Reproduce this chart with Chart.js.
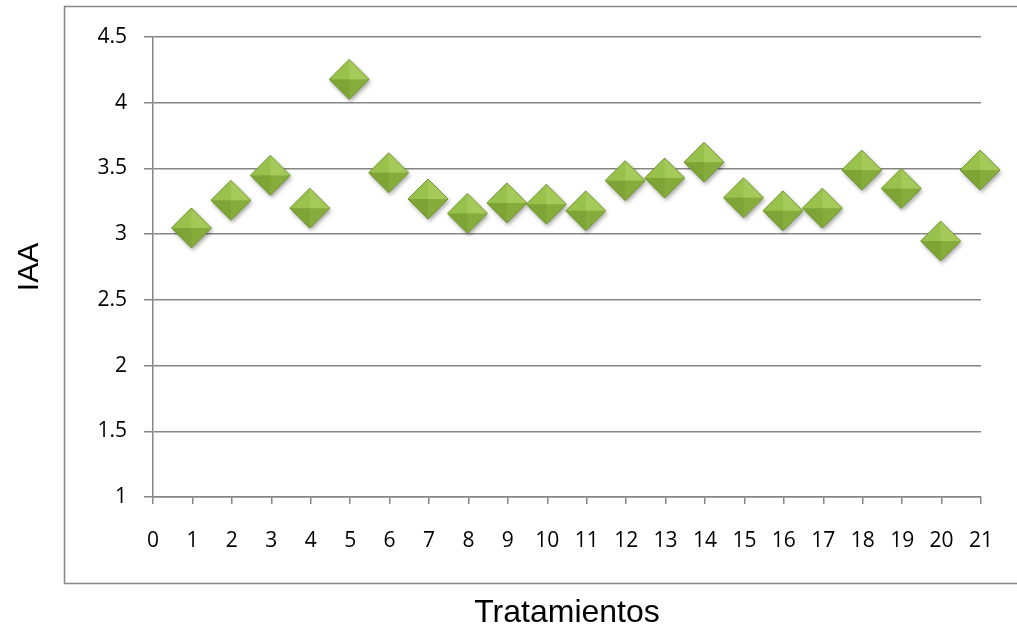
<!DOCTYPE html>
<html>
<head>
<meta charset="utf-8">
<script src="https://cdn.jsdelivr.net/npm/chart.js@4/dist/chart.umd.min.js"></script>
<style>
  html, body { margin: 0; padding: 0; background: #ffffff; }
  #wrap { width: 1017px; height: 632px; position: relative; }
</style>
</head>
<body>
<div id="wrap"><canvas id="chart"></canvas></div>
<script>
// treatments (x) and IAA values (y)
const tratamientos = [1, 2, 3, 4, 5, 6, 7, 8, 9, 10, 11, 12, 13, 14, 15, 16, 17, 18, 19, 20, 21];
const iaa = [3.04, 3.25, 3.44, 3.19, 4.17, 3.46, 3.26, 3.15, 3.23, 3.22, 3.17, 3.40, 3.42, 3.54, 3.27, 3.17, 3.19, 3.48, 3.34, 2.94, 3.48];

const xTitle = "Tratamientos";
const yTitle = "IAA";

const GRID = "rgb(134, 134, 134)";
const TICK_FONT = { family: "'Open Sans', sans-serif", size: 21 };

// beveled green diamond, drawn once and used as the point image
const makeDiamond = () => {
  const c = document.createElement("canvas");
  const s = 54;
  c.width = s;
  c.height = s;
  const g = c.getContext("2d");
  const cx = s / 2 - 1;
  const cy = s / 2 - 1;
  const r = 20;

  const outline = () => {
    g.beginPath();
    g.moveTo(cx, cy - r);
    g.lineTo(cx + r, cy);
    g.lineTo(cx, cy + r);
    g.lineTo(cx - r, cy);
    g.closePath();
  };

  // soft shadow
  g.save();
  g.shadowColor = "rgba(0, 0, 0, 0.35)";
  g.shadowBlur = 4;
  g.shadowOffsetX = 1.5;
  g.shadowOffsetY = 2.5;
  outline();
  g.fillStyle = "#86ad3c";
  g.fill();
  g.restore();

  const facet = (ax, ay, bx, by, color) => {
    g.beginPath();
    g.moveTo(cx, cy);
    g.lineTo(ax, ay);
    g.lineTo(bx, by);
    g.closePath();
    g.fillStyle = color;
    g.fill();
  };
  facet(cx - r, cy, cx, cy - r, "#98c24b");   // top-left
  facet(cx, cy - r, cx + r, cy, "#a6ca5a");   // top-right
  facet(cx + r, cy, cx, cy + r, "#86ad3b");   // bottom-right
  facet(cx, cy + r, cx - r, cy, "#7da435");   // bottom-left

  outline();
  g.lineWidth = 1;
  g.strokeStyle = "#6e9430";
  g.stroke();
  return c;
};

const outerFrame = {
  id: "outerFrame",
  beforeDraw(chart) {
    const ctx = chart.ctx;
    ctx.save();
    ctx.strokeStyle = GRID;
    ctx.lineWidth = 1.5;
    ctx.strokeRect(64.5, 6.5, 1000, 577);
    ctx.restore();
  },
};

const points = tratamientos.map((t, i) => ({ x: t, y: iaa[i] }));

new Chart(document.getElementById("chart"), {
  type: "scatter",
  data: {
    datasets: [
      {
        label: yTitle,
        data: points,
        pointStyle: makeDiamond(),
        pointRadius: 20,
        pointHoverRadius: 20,
        clip: false,
      },
    ],
  },
  options: {
    responsive: true,
    maintainAspectRatio: false,
    animation: false,
    layout: {
      padding: { top: 37, right: 35, left: 0, bottom: 0 },
    },
    plugins: {
      legend: { display: false },
      tooltip: { enabled: false },
    },
    scales: {
      x: {
        type: "linear",
        min: 0,
        max: 21,
        afterFit(scale) {
          scale.height = 135;
        },
        ticks: {
          stepSize: 1,
          color: "#000000",
          font: TICK_FONT,
          padding: 24,
          autoSkip: false,
          maxRotation: 0,
        },
        grid: {
          drawOnChartArea: false,
          drawTicks: true,
          tickLength: 7,
          color: GRID,
          lineWidth: 1.5,
        },
        border: { color: GRID, width: 1.5 },
        title: {
          display: true,
          text: xTitle,
          color: "#000000",
          font: { family: "'Liberation Sans', Arial, sans-serif", size: 32 },
          padding: { top: 0, bottom: 0 },
        },
      },
      y: {
        type: "linear",
        min: 1,
        max: 4.5,
        afterFit(scale) {
          scale.width = 153;
        },
        ticks: {
          stepSize: 0.5,
          color: "#000000",
          font: TICK_FONT,
          padding: 17,
          callback: (value) => `${value}`,
        },
        grid: {
          drawTicks: true,
          tickLength: 9,
          color: GRID,
          lineWidth: 1.5,
        },
        border: { color: GRID, width: 1.5 },
        title: {
          display: true,
          text: yTitle,
          color: "#000000",
          font: { family: "'Liberation Sans', Arial, sans-serif", size: 30 },
          padding: { top: 12, bottom: 0 },
        },
      },
    },
  },
  plugins: [outerFrame],
});
</script>
</body>
</html>
